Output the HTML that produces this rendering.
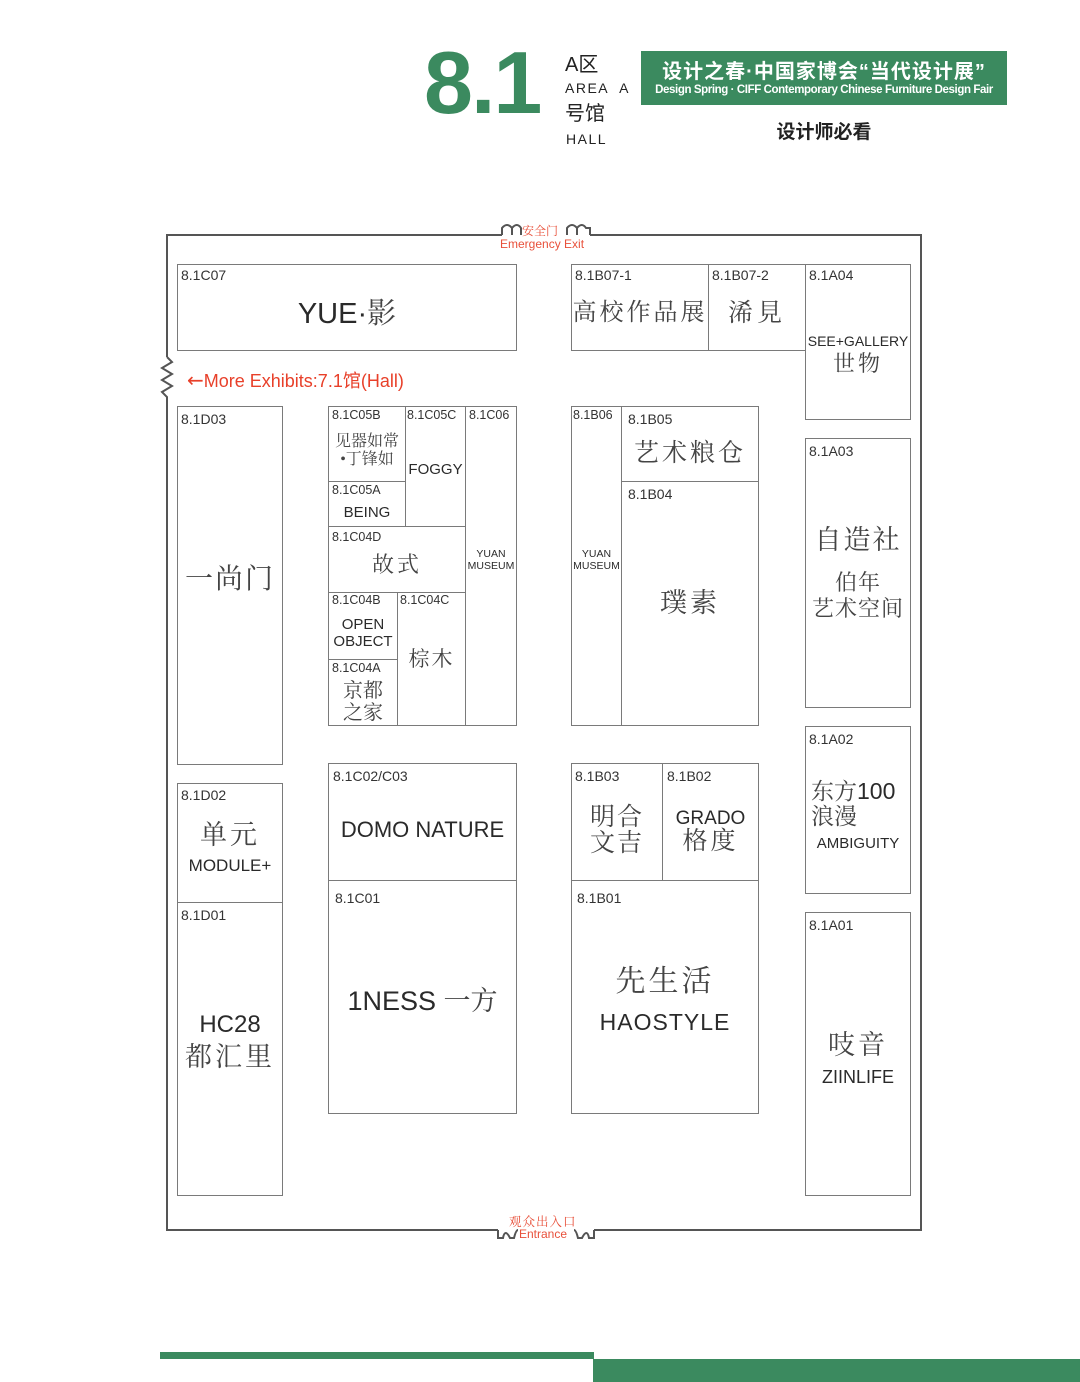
<!DOCTYPE html>
<html><head><meta charset="utf-8">
<style>
*{margin:0;padding:0;box-sizing:border-box}
body{width:1080px;height:1382px;background:#fff;position:relative;overflow:hidden;font-family:"Liberation Sans","Noto Sans CJK SC",sans-serif;color:#222}
.b{position:absolute;border:1.5px solid #7a7a7a}
.l{position:absolute;font-size:14px;color:#333;white-space:nowrap;margin-top:1px}
.t{position:absolute;text-align:center;white-space:nowrap;color:#2a2a2a;line-height:1.1;margin-top:3px}
.s{font-family:"Liberation Serif","Noto Serif CJK SC",serif;color:#444}
.g{position:absolute;background:#3b8a5f}
</style></head><body>
<!-- header -->
<div style="position:absolute;left:424px;top:30px;font-size:88px;font-weight:bold;color:#3b8a5f;letter-spacing:-2px;line-height:1.2">8.1</div>
<div style="position:absolute;left:565px;top:55px;font-size:20px;color:#222;line-height:1">A区</div>
<div style="position:absolute;left:565px;top:80px;font-size:14px;letter-spacing:1.5px;color:#222">AREA&nbsp; A</div>
<div style="position:absolute;left:565px;top:104px;font-size:20px;color:#222;line-height:1">号馆</div>
<div style="position:absolute;left:566px;top:131px;font-size:14px;letter-spacing:1.5px;color:#222">HALL</div>
<div class="g" style="left:641px;top:51px;width:366px;height:54px"></div>
<div style="position:absolute;left:641px;top:55px;width:366px;text-align:center;color:#fff;font-size:20px;font-weight:bold;letter-spacing:1px">设计之春·中国家博会“当代设计展”</div>
<div style="position:absolute;left:641px;top:84px;width:366px;text-align:center;color:#fff;font-size:11.5px;font-weight:bold;letter-spacing:-0.4px">Design Spring · CIFF Contemporary Chinese Furniture Design Fair</div>
<div style="position:absolute;left:641px;top:117px;width:366px;text-align:center;font-size:19px;font-weight:bold;color:#222">设计师必看</div>

<!-- outer walls -->
<svg style="position:absolute;left:0;top:0" width="1080" height="1382">
<g fill="none" stroke="#555" stroke-width="2">
<polyline points="502,235 167,235 167,357"/>
<polyline points="167,400 167,1230 498,1230"/>
<polyline points="594,1230 921,1230 921,235 590,235"/>
<polyline points="167,357 172,362 162,368 172,374 162,380 172,386 162,392 167,397 167,400"/>
<path d="M502,235 L502,228 Q507,222 512,228 L512,235 M512,228 Q517,222 521,228 L521,235"/>
<path d="M567,235 L567,228 Q572,222 577,228 L577,235 M577,228 Q582,222 586,228 L590,228 L590,235"/>
<path d="M498,1230 L498,1238 L503,1238 Q505,1228 510,1238 L514,1238 Q516,1230 518,1230"/>
<path d="M594,1230 L594,1238 L589,1238 Q587,1228 582,1238 L578,1238 Q576,1230 574,1230"/>
</g></svg>
<div style="position:absolute;left:522px;top:222px;font-size:12px;color:#e8503a;font-family:'Liberation Serif','Noto Serif CJK SC',serif">安全门</div>
<div style="position:absolute;left:500px;top:237px;font-size:12px;color:#e8503a">Emergency Exit</div>
<div style="position:absolute;left:509px;top:1212px;font-size:12.5px;color:#e8503a;font-family:'Liberation Serif','Noto Serif CJK SC',serif;letter-spacing:1px">观众出入口</div>
<div style="position:absolute;left:519px;top:1227px;font-size:12px;color:#e8503a">Entrance</div>
<div style="position:absolute;left:187px;top:367px;font-size:18px;color:#e8402a"><span style="font-size:20px;font-family:'DejaVu Sans',sans-serif">←</span>More Exhibits:7.1馆(Hall)</div>

<!-- boxes -->
<div class="b" style="left:177px;top:264px;width:340px;height:87px"></div>
<div class="l" style="left:181px;top:266px">8.1C07</div>
<div class="t" style="left:177px;top:296px;width:340px;font-size:29px">YUE·<span class="s">影</span></div>

<div class="b" style="left:571px;top:264px;width:138px;height:87px"></div>
<div class="l" style="left:575px;top:266px">8.1B07-1</div>
<div class="t s" style="left:571px;top:297px;width:138px;font-size:24px;letter-spacing:3px">高校作品展</div>
<div class="b" style="left:708px;top:264px;width:98px;height:87px"></div>
<div class="l" style="left:712px;top:266px">8.1B07-2</div>
<div class="t s" style="left:708px;top:297px;width:98px;font-size:25px;letter-spacing:4px">浠見</div>
<div class="b" style="left:805px;top:264px;width:106px;height:156px"></div>
<div class="l" style="left:809px;top:266px">8.1A04</div>
<div class="t" style="left:805px;top:331px;width:106px;font-size:14px">SEE+GALLERY</div>
<div class="t s" style="left:805px;top:349px;width:106px;font-size:22px;letter-spacing:3px">世物</div>

<div class="b" style="left:177px;top:406px;width:106px;height:359px"></div>
<div class="l" style="left:181px;top:410px">8.1D03</div>
<div class="t s" style="left:177px;top:562px;width:106px;font-size:28px;letter-spacing:2px">一尚门</div>

<!-- C block -->
<div class="b" style="left:328px;top:406px;width:78px;height:76px"></div>
<div class="l" style="left:332px;top:407px;font-size:12.5px">8.1C05B</div>
<div class="t s" style="left:328px;top:430px;width:78px;font-size:16px;line-height:1.1">见器如常<br>•丁锋如</div>
<div class="b" style="left:328px;top:481px;width:78px;height:46px"></div>
<div class="l" style="left:332px;top:482px;font-size:12.5px">8.1C05A</div>
<div class="t" style="left:328px;top:502px;width:78px;font-size:15px">BEING</div>
<div class="b" style="left:405px;top:406px;width:61px;height:121px"></div>
<div class="l" style="left:407px;top:407px;font-size:12.5px">8.1C05C</div>
<div class="t" style="left:405px;top:459px;width:61px;font-size:15px">FOGGY</div>
<div class="b" style="left:465px;top:406px;width:52px;height:320px"></div>
<div class="l" style="left:469px;top:407px;font-size:12.5px">8.1C06</div>
<div class="t" style="left:465px;top:546px;width:52px;font-size:10.5px">YUAN<br>MUSEUM</div>
<div class="b" style="left:328px;top:526px;width:138px;height:67px"></div>
<div class="l" style="left:332px;top:529px;font-size:12.5px">8.1C04D</div>
<div class="t s" style="left:328px;top:550px;width:138px;font-size:22px;letter-spacing:3px">故式</div>
<div class="b" style="left:328px;top:592px;width:70px;height:68px"></div>
<div class="l" style="left:332px;top:592px;font-size:12.5px">8.1C04B</div>
<div class="t" style="left:328px;top:614px;width:70px;font-size:15px">OPEN<br>OBJECT</div>
<div class="b" style="left:328px;top:659px;width:70px;height:67px"></div>
<div class="l" style="left:332px;top:660px;font-size:12.5px">8.1C04A</div>
<div class="t s" style="left:328px;top:677px;width:70px;font-size:20px;line-height:1.1">京都<br>之家</div>
<div class="b" style="left:397px;top:592px;width:69px;height:134px"></div>
<div class="l" style="left:400px;top:592px;font-size:12.5px">8.1C04C</div>
<div class="t s" style="left:397px;top:645px;width:69px;font-size:21px;letter-spacing:2px">棕木</div>

<!-- B block -->
<div class="b" style="left:571px;top:406px;width:51px;height:320px"></div>
<div class="l" style="left:573px;top:407px;font-size:12.5px">8.1B06</div>
<div class="t" style="left:571px;top:546px;width:51px;font-size:10.5px">YUAN<br>MUSEUM</div>
<div class="b" style="left:621px;top:406px;width:138px;height:76px"></div>
<div class="l" style="left:628px;top:410px">8.1B05</div>
<div class="t s" style="left:621px;top:437px;width:138px;font-size:25px;letter-spacing:3px">艺术粮仓</div>
<div class="b" style="left:621px;top:481px;width:138px;height:245px"></div>
<div class="l" style="left:628px;top:485px">8.1B04</div>
<div class="t s" style="left:621px;top:586px;width:138px;font-size:27px;letter-spacing:3px">璞素</div>

<div class="b" style="left:805px;top:438px;width:106px;height:270px"></div>
<div class="l" style="left:809px;top:442px">8.1A03</div>
<div class="t s" style="left:805px;top:523px;width:106px;font-size:27px;letter-spacing:2px">自造社</div>
<div class="t s" style="left:805px;top:567px;width:106px;font-size:22px;line-height:1.2;letter-spacing:1px">伯年<br>艺术空间</div>

<div class="b" style="left:805px;top:726px;width:106px;height:168px"></div>
<div class="l" style="left:809px;top:730px">8.1A02</div>
<div class="t" style="left:805px;top:776px;width:106px;font-size:23px;text-align:left;padding-left:6px"><span class="s">东方</span>100<br><span class="s">浪漫</span></div>
<div class="t" style="left:805px;top:833px;width:106px;font-size:15px">AMBIGUITY</div>

<div class="b" style="left:177px;top:783px;width:106px;height:120px"></div>
<div class="l" style="left:181px;top:786px">8.1D02</div>
<div class="t s" style="left:177px;top:818px;width:106px;font-size:27px;letter-spacing:3px">单元</div>
<div class="t" style="left:177px;top:854px;width:106px;font-size:17px">MODULE+</div>
<div class="b" style="left:177px;top:902px;width:106px;height:294px"></div>
<div class="l" style="left:181px;top:906px">8.1D01</div>
<div class="t" style="left:177px;top:1009px;width:106px;font-size:24px">HC28</div>
<div class="t s" style="left:177px;top:1040px;width:106px;font-size:27px;letter-spacing:3px">都汇里</div>

<div class="b" style="left:328px;top:763px;width:189px;height:118px"></div>
<div class="l" style="left:333px;top:767px">8.1C02/C03</div>
<div class="t" style="left:328px;top:815px;width:189px;font-size:22px">DOMO NATURE</div>
<div class="b" style="left:328px;top:880px;width:189px;height:234px"></div>
<div class="l" style="left:335px;top:889px">8.1C01</div>
<div class="t" style="left:328px;top:984px;width:189px;font-size:27px">1NESS <span class="s">一方</span></div>

<div class="b" style="left:571px;top:763px;width:92px;height:118px"></div>
<div class="l" style="left:575px;top:767px">8.1B03</div>
<div class="t s" style="left:571px;top:802px;width:92px;font-size:25px;line-height:1.05;letter-spacing:2px">明合<br>文吉</div>
<div class="b" style="left:662px;top:763px;width:97px;height:118px"></div>
<div class="l" style="left:667px;top:767px">8.1B02</div>
<div class="t" style="left:662px;top:806px;width:97px;font-size:19px">GRADO</div>
<div class="t s" style="left:662px;top:825px;width:97px;font-size:25px;letter-spacing:3px">格度</div>
<div class="b" style="left:571px;top:880px;width:188px;height:234px"></div>
<div class="l" style="left:577px;top:889px">8.1B01</div>
<div class="t s" style="left:571px;top:962px;width:188px;font-size:30px;letter-spacing:3px">先生活</div>
<div class="t" style="left:571px;top:1007px;width:188px;font-size:23px;letter-spacing:1px">HAOSTYLE</div>

<div class="b" style="left:805px;top:912px;width:106px;height:284px"></div>
<div class="l" style="left:809px;top:916px">8.1A01</div>
<div class="t s" style="left:805px;top:1028px;width:106px;font-size:27px;letter-spacing:3px">吱音</div>
<div class="t" style="left:805px;top:1065px;width:106px;font-size:18px">ZIINLIFE</div>

<!-- bottom bars -->
<div class="g" style="left:160px;top:1352px;width:434px;height:7px"></div>
<div class="g" style="left:593px;top:1359px;width:487px;height:23px"></div>
</body></html>
